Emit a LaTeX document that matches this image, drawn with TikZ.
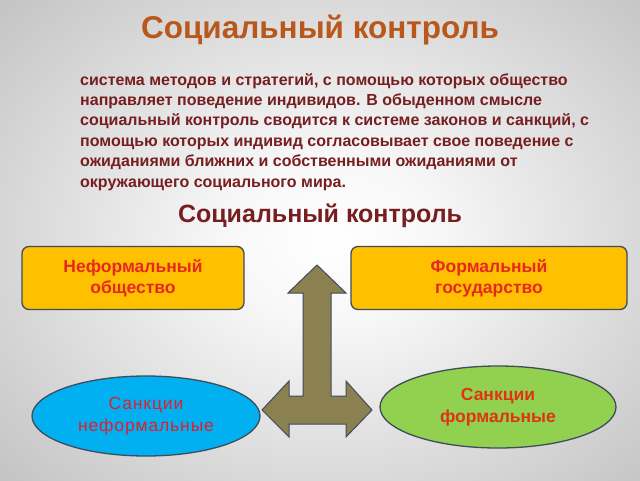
\documentclass[tikz,border=0pt]{standalone}
\usepackage{fontspec}
\setmainfont{Liberation Sans}
\usetikzlibrary{shapes.geometric}
\definecolor{titlec}{RGB}{184,88,28}
\definecolor{parac}{RGB}{118,30,32}
\definecolor{boxfill}{RGB}{255,192,0}
\definecolor{boxtext}{RGB}{230,40,30}
\definecolor{bluetext}{RGB}{225,30,45}
\definecolor{bluefill}{RGB}{0,176,240}
\definecolor{greenfill}{RGB}{146,208,80}
\definecolor{greentext}{RGB}{222,52,20}
\definecolor{olive}{RGB}{138,128,80}
\definecolor{edgec}{RGB}{62,76,94}
\pgfdeclareradialshading{bgshade}{\pgfpoint{0bp}{0bp}}{%
  color(0bp)=(white); color(8bp)=(white!97!black); color(40bp)=(black!28!white); color(75bp)=(black!44!white)}
\tikzset{
  boxnode/.style={draw=edgec, line width=1.3pt, fill=boxfill, rounded corners=7pt,
    minimum width=222pt, minimum height=63pt, align=center, text=boxtext,
    font=\fontsize{17.5}{21}\selectfont\bfseries},
  ellnode/.style={ellipse, draw=edgec, line width=1.3pt, align=center}
}
\begin{document}
\begin{tikzpicture}[x=1pt,y=-1pt]
\useasboundingbox (0,0) rectangle (640,480);
\begin{scope}
\clip (0,0) rectangle (640,480);
\shade[shading=bgshade] (0,-20) rectangle (660,500);
\end{scope}
\node[text=titlec, font=\fontsize{31.5}{34}\selectfont\bfseries] (title) at (320,30) {Социальный контроль};
\node[text=parac, font=\fontsize{16}{20.4}\selectfont\bfseries, align=left, anchor=north west, inner sep=0pt] (para) at (80,73)
{система методов и стратегий, с помощью которых общество\\
направляет поведение индивидов. В обыденном смысле\\
социальный контроль сводится к системе законов и санкций, с\\
помощью которых индивид согласовывает свое поведение с\\
ожиданиями ближних и собственными ожиданиями от\\
окружающего социального мира.};
\node[text=parac, font=\fontsize{25}{28}\selectfont\bfseries] (sub) at (320,216) {Социальный контроль};
\node[boxnode] (inf) at (133,278) {Неформальный\\общество};
\node[boxnode, minimum width=276pt] (form) at (489,278) {Формальный\\государство};
\node[ellnode, fill=bluefill, text=bluetext, minimum width=228pt, minimum height=80pt,
  font=\fontsize{17.5}{22}\selectfont\addfontfeature{LetterSpace=5}] (sinf) at (146,416) {Санкции\\неформальные};
\node[ellnode, fill=greenfill, text=greentext, minimum width=236pt, minimum height=82pt,
  font=\fontsize{17.5}{22}\selectfont\bfseries] (sform) at (498,407) {Санкции\\формальные};
\draw[fill=olive, draw=edgec, line width=1pt, line join=miter]
  (317,265) -- (346,293) -- (331,293) -- (331,396) -- (346,396) -- (346,381) -- (372,410)
  -- (346,437) -- (346,424) -- (289,424) -- (289,437) -- (262,410) -- (289,381) -- (289,396)
  -- (303,396) -- (303,293) -- (288,293) -- cycle;
\end{tikzpicture}
\end{document}
